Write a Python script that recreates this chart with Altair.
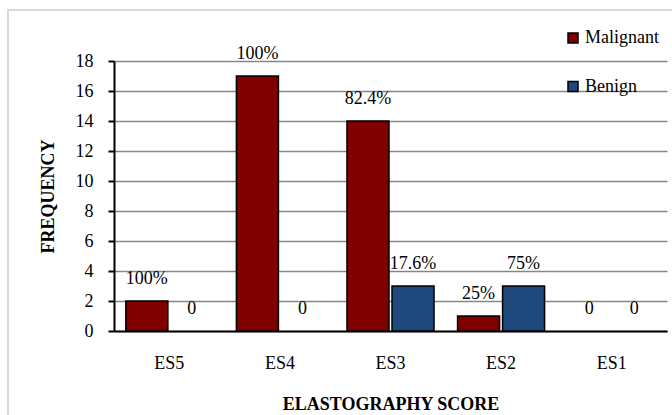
import altair as alt
import pandas as pd

categories = ["ES5", "ES4", "ES3", "ES2", "ES1"]
series = ["Malignant", "Benign"]
malignant = [2, 17, 14, 1, 0]
benign = [0, 0, 3, 3, 0]
malignant_labels = ["100%", "100%", "82.4%", "25%", "0"]
benign_labels = ["0", "0", "17.6%", "75%", "0"]
y_ticks = [0, 2, 4, 6, 8, 10, 12, 14, 16, 18]
colors = ["#800000", "#1F497D"]

rows = []
for i, c in enumerate(categories):
    rows.append(dict(score=c, group="Malignant", freq=malignant[i], label=malignant_labels[i]))
    rows.append(dict(score=c, group="Benign", freq=benign[i], label=benign_labels[i]))
df = pd.DataFrame(rows)

FONT = "Liberation Serif"

x_enc = alt.X(
    "score:N", sort=categories,
    scale=alt.Scale(paddingInner=0.213, paddingOuter=0.107),
    axis=alt.Axis(title="ELASTOGRAPHY SCORE", labelAngle=0, ticks=False, labelPadding=23,
                  grid=False, domainColor="black", domainWidth=2, titlePadding=23,
                  labelFont=FONT, labelFontSize=18, labelColor="black",
                  titleFont=FONT, titleFontSize=18, titleFontWeight="bold", titleColor="black"),
)
xo_enc = alt.XOffset("group:N", sort=series, scale=alt.Scale(paddingInner=0.0667, paddingOuter=0))
y_enc = alt.Y(
    "freq:Q", scale=alt.Scale(domain=[0, 18], nice=False),
    axis=alt.Axis(values=y_ticks, title="FREQUENCY", grid=True, gridColor="#868686", gridWidth=1.5,
                  domainColor="black", domainWidth=2, tickColor="black", tickWidth=2, tickSize=6,
                  labelPadding=15, titlePadding=18,
                  labelFont=FONT, labelFontSize=18, labelColor="black",
                  titleFont=FONT, titleFontSize=18, titleFontWeight="bold", titleColor="black"),
)

frame = alt.Chart(alt.Data(values=[{"a": 1}])).mark_rect(
    fill="transparent", stroke="#d9d9d9", strokeWidth=2
).encode(x=alt.value(-106), x2=alt.value(600), y=alt.value(-51), y2=alt.value(400))

bars = alt.Chart(df).transform_filter("datum.freq > 0").mark_bar(stroke="black", strokeWidth=1.5).encode(
    x=x_enc, xOffset=xo_enc, y=y_enc,
    color=alt.Color("group:N", sort=series, scale=alt.Scale(domain=series, range=colors),
                    legend=alt.Legend(title=None, orient="none", legendX=450, legendY=-32,
                                      symbolType="square", symbolSize=100, symbolStrokeColor="black",
                                      symbolStrokeWidth=1.5, rowPadding=30.5, labelOffset=3, padding=0,
                                      labelFont=FONT, labelFontSize=18, labelColor="black")),
)

texts = alt.Chart(df).mark_text(dy=-22, baseline="middle", fontSize=18, font=FONT, color="black").encode(
    x=x_enc, xOffset=xo_enc, y=y_enc, text="label:N"
)

chart = alt.layer(frame, bars, texts).properties(
    width=553, height=270,
    autosize=alt.AutoSizeParams(type="none"),
    padding={"left": 114, "top": 61, "right": 5, "bottom": 84},
    background="white",
).configure(font=FONT).configure_view(stroke=None)

chart.save("out.html", embed_options={"renderer": "svg", "actions": False})
